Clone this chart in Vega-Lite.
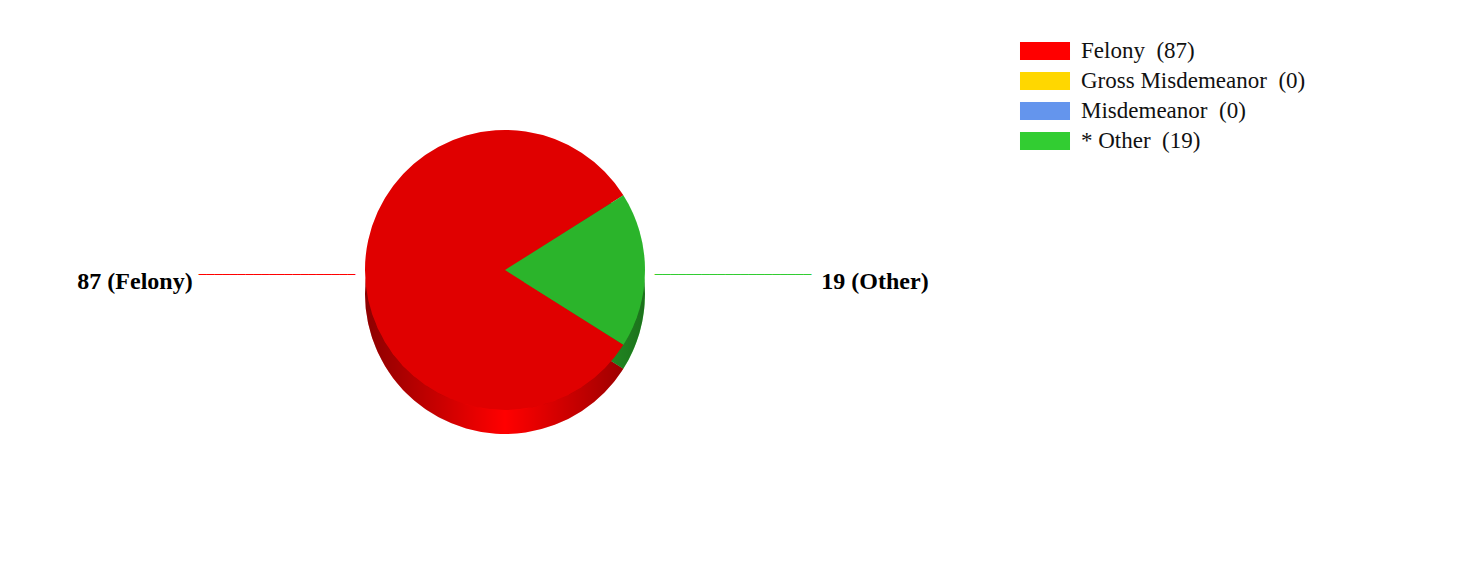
{
  "$schema": "https://vega.github.io/schema/vega-lite/v6.json",
  "width": 1010,
  "height": 540,
  "padding": 0,
  "background": "white",
  "config": {
    "view": {"stroke": null},
    "legend": {
      "orient": "none",
      "legendX": 1030,
      "legendY": 36,
      "padding": 0,
      "symbolType": "M-1.667,-0.6H1.667V0.6H-1.667Z",
      "symbolSize": 900,
      "symbolStrokeWidth": 0,
      "symbolOpacity": 1,
      "labelFont": "Liberation Serif",
      "labelFontSize": 23,
      "labelColor": "#111111",
      "labelOffset": 21,
      "labelLimit": 500,
      "rowPadding": 3
    }
  },
  "data": {
    "values": [
      {"category": "Felony", "legend": "Felony\u00a0\u00a0(87)", "label": "87 (Felony)", "count": 87, "rank": 1},
      {"category": "Gross Misdemeanor", "legend": "Gross Misdemeanor\u00a0\u00a0(0)", "label": "0 (Gross Misdemeanor)", "count": 0, "rank": 2},
      {"category": "Misdemeanor", "legend": "Misdemeanor\u00a0\u00a0(0)", "label": "0 (Misdemeanor)", "count": 0, "rank": 3},
      {"category": "Other", "legend": "*\u00a0Other\u00a0\u00a0(19)", "label": "19 (Other)", "count": 19, "rank": 4}
    ]
  },
  "layer": [
    {
      "mark": {"type": "arc", "radius": 140, "yOffset": 24},
      "encoding": {
        "theta": {"field": "count", "type": "quantitative", "stack": true, "scale": {"range": [2.13384, 8.41703]}},
        "color": {
          "field": "legend",
          "type": "nominal",
          "scale": {
            "domain": ["Felony\u00a0\u00a0(87)", "Gross Misdemeanor\u00a0\u00a0(0)", "Misdemeanor\u00a0\u00a0(0)", "*\u00a0Other\u00a0\u00a0(19)"],
            "range": ["#ff0000", "#ffd700", "#6495ed", "#32cd32"]
          },
          "legend": {"title": null}
        },
        "order": {"field": "rank", "type": "quantitative"}
      }
    },
    {
      "data": {"values": [{}]},
      "mark": {
        "type": "arc",
        "radius": 140,
        "yOffset": 24,
        "theta": 0,
        "theta2": 6.2832,
        "fill": {
          "gradient": "linear",
          "x1": 0, "y1": 0, "x2": 1, "y2": 0,
          "stops": [
            {"offset": 0, "color": "rgba(0,0,0,0.45)"},
            {"offset": 0.5, "color": "rgba(0,0,0,0)"},
            {"offset": 1, "color": "rgba(0,0,0,0.45)"}
          ]
        }
      },
      "encoding": {}
    },
    {
      "mark": {"type": "arc", "radius": 140},
      "encoding": {
        "theta": {"field": "count", "type": "quantitative", "stack": true},
        "color": {"field": "legend", "type": "nominal"},
        "order": {"field": "rank", "type": "quantitative"}
      }
    },
    {
      "data": {"values": [{}]},
      "mark": {"type": "arc", "radius": 140, "theta": 0, "theta2": 6.2832, "fill": "#000000", "opacity": 0.12},
      "encoding": {}
    },
    {
      "transform": [{"filter": "datum.count > 0"}],
      "mark": {"type": "text", "radius": 228, "font": "DejaVu Sans Mono", "fontSize": 13, "dy": 5, "baseline": "middle", "align": "center"},
      "encoding": {
        "theta": {"field": "count", "type": "quantitative", "stack": true},
        "color": {"field": "legend", "type": "nominal"},
        "order": {"field": "rank", "type": "quantitative"},
        "text": {"value": "────────────────────"}
      }
    },
    {
      "transform": [{"filter": "datum.count > 0"}],
      "mark": {"type": "text", "radius": 370, "font": "Liberation Serif", "fontSize": 24, "fontWeight": "bold", "fill": "#000000", "dy": 12, "baseline": "middle", "align": "center"},
      "encoding": {
        "theta": {"field": "count", "type": "quantitative", "stack": true},
        "order": {"field": "rank", "type": "quantitative"},
        "text": {"field": "label", "type": "nominal"}
      }
    }
  ]
}
